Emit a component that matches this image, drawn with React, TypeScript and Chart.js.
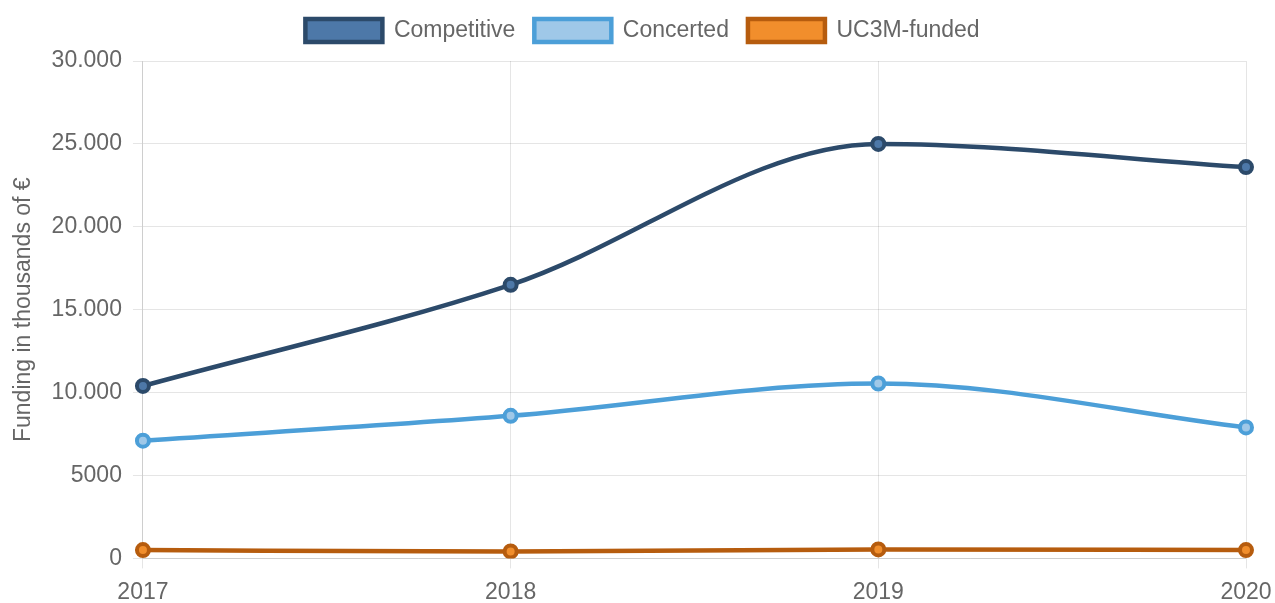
import React, { useEffect, useRef } from "react";
import { Chart, registerables } from "chart.js";

Chart.register(...registerables);

const years = ["2017", "2018", "2019", "2020"];
const competitive = [10400, 16500, 25000, 23600];
const concerted = [7100, 8600, 10550, 7900];
const uc3mFunded = [500, 420, 540, 500];
const yTicks = [0, 5000, 10000, 15000, 20000, 25000, 30000];

const FONT = "'Liberation Sans', Arial, sans-serif";

const legendMargin = {
  id: "legendMargin",
  beforeInit(chart: any) {
    const orig = chart.legend.fit;
    chart.legend.fit = function () {
      orig.bind(chart.legend)();
      this.height += 9;
    };
  },
};

export default function App() {
  const ref = useRef<HTMLCanvasElement | null>(null);
  useEffect(() => {
    if (!ref.current) return;
    const mk = (label: string, data: number[], border: string, fill: string) => ({
      label,
      data,
      borderColor: border,
      backgroundColor: fill,
      pointBackgroundColor: fill,
      pointBorderColor: border,
      borderWidth: 4.5,
      pointRadius: 6,
      pointBorderWidth: 4,
      fill: false,
      cubicInterpolationMode: "monotone" as const,
    });
    const chart = new Chart(ref.current, {
      type: "line",
      plugins: [legendMargin],
      data: {
        labels: years,
        datasets: [
          mk("Competitive", competitive, "#2c4a6a", "#4d78a8"),
          mk("Concerted", concerted, "#4c9fd8", "#9fc8e8"),
          mk("UC3M-funded", uc3mFunded, "#b65c0e", "#f18e2c"),
        ],
      },
      options: {
        animation: false,
        responsive: true,
        maintainAspectRatio: false,
        locale: "es-ES",
        layout: { padding: { left: 10, right: 0, top: 0, bottom: 0 } },
        plugins: {
          tooltip: { enabled: false },
          legend: {
            position: "top",
            labels: {
              color: "#666",
              font: { family: FONT, size: 23 },
              boxWidth: 77,
              boxHeight: 23,
              padding: 19,
            },
          },
        },
        scales: {
          x: {
            afterFit: (axis: any) => {
              axis.paddingRight = 29;
            },
            grid: { color: "rgba(0,0,0,0.1)", lineWidth: 1, tickLength: 10 },
            ticks: { color: "#666", font: { family: FONT, size: 23 }, padding: 10 },
          },
          y: {
            min: 0,
            max: 30000,
            afterBuildTicks: (axis: any) => {
              axis.ticks = yTicks.map((v) => ({ value: v }));
            },
            grid: { color: "rgba(0,0,0,0.1)", lineWidth: 1, tickLength: 10 },
            ticks: {
              color: "#666",
              font: { family: FONT, size: 23 },
              padding: 11,
              callback: (v: any) => Number(v).toLocaleString("es-ES"),
            },
            title: {
              display: true,
              text: "Funding in thousands of €",
              color: "#666",
              font: { family: FONT, size: 23 },
              padding: { top: 0, bottom: 3 },
            },
          },
        },
      },
    });
    return () => chart.destroy();
  }, []);
  return (
    <div style={{ position: "absolute", left: 0, top: 0, width: 1275, height: 603, overflow: "hidden", background: "#fff" }}>
      <div style={{ position: "relative", width: 1275, height: 616 }}>
        <canvas ref={ref} />
      </div>
    </div>
  );
}
